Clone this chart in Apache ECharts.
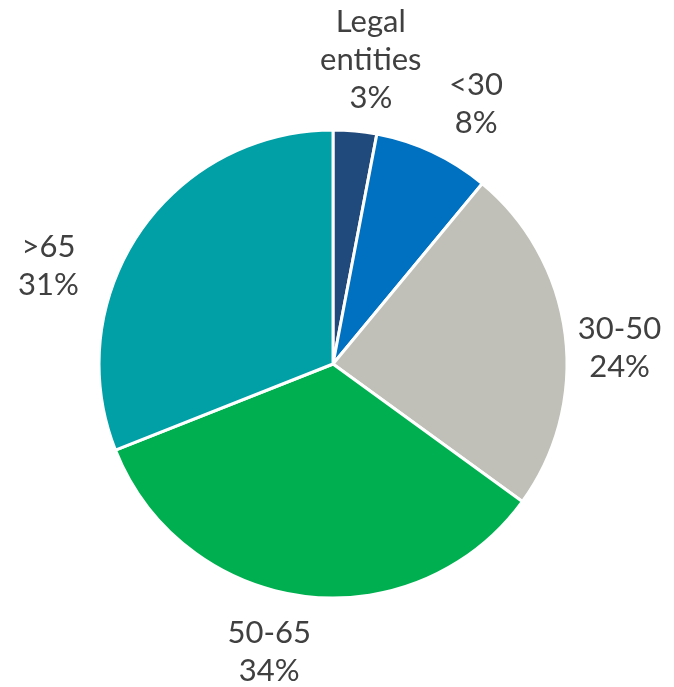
<!DOCTYPE html>
<html>
<head>
<meta charset="utf-8">
<script src="https://cdn.jsdelivr.net/npm/echarts@6/dist/echarts.min.js"></script>
<style>
  html, body { margin: 0; padding: 0; background: #ffffff; }
  #chart { width: 674px; height: 687px; }
</style>
</head>
<body>
<div id="chart"></div>
<script>
// Shareholders by age group
const categories = ['Legal\nentities', '<30', '30-50', '50-65', '>65'];
const shares = [3, 8, 24, 34, 31];
const colors = ['#214A7C', '#0070C0', '#C0C0B8', '#00B050', '#00A0A6'];

// Label placement: extra distance beyond the rim (px) and angular nudge (deg, clockwise)
const labelOffset = [72, 63, 53, 61, 67];
const labelNudge = [1.7, 3.6, 4.0, 5.3, -15.2];

const chart = echarts.init(document.getElementById('chart'), null, { renderer: 'canvas' });

chart.setOption({
  animation: false,
  series: [{
    type: 'pie',
    center: [333, 364],
    radius: [0, 234],
    startAngle: 90,
    clockwise: true,
    avoidLabelOverlap: false,
    itemStyle: { borderColor: '#ffffff', borderWidth: 3 },
    label: {
      show: true,
      position: 'outside',
      formatter: '{b}\n{c}%',
      color: '#404040',
      fontFamily: 'Lato, "Open Sans", sans-serif',
      fontSize: 31,
      lineHeight: 38,
      align: 'center'
    },
    labelLine: { show: false },
    labelLayout: function (params) {
      const i = params.dataIndex;
      const data = chart.getModel().getSeriesByIndex(0).getData();
      const lay = data.getItemLayout(i);
      const mid = (lay.startAngle + lay.endAngle) / 2 + labelNudge[i] * Math.PI / 180;
      const R = lay.r + labelOffset[i];
      return {
        x: lay.cx + R * Math.cos(mid),
        y: lay.cy + R * Math.sin(mid),
        align: 'center',
        verticalAlign: 'middle'
      };
    },
    data: categories.map((name, i) => ({
      name: name,
      value: shares[i],
      itemStyle: { color: colors[i] }
    }))
  }]
});
</script>
</body>
</html>
